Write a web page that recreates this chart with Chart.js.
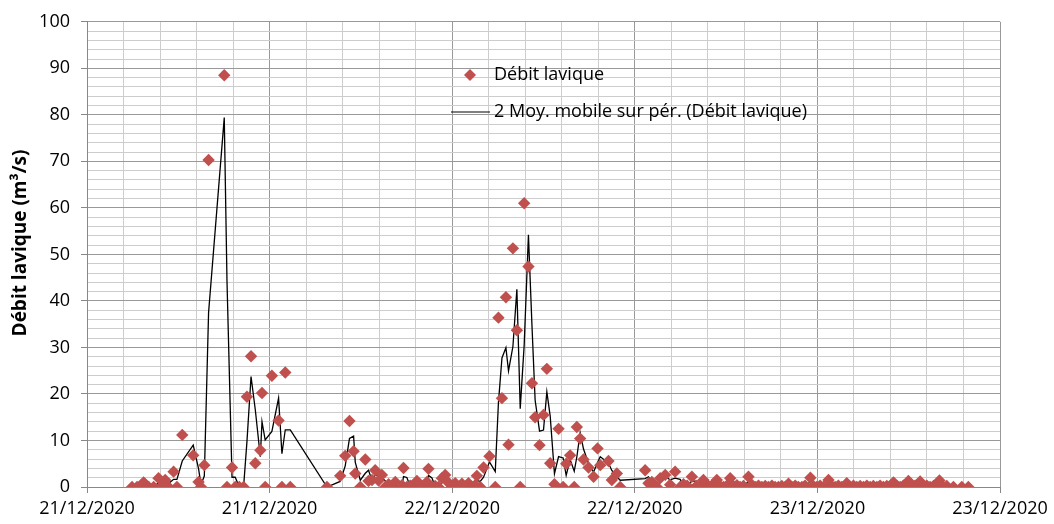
<!DOCTYPE html>
<html><head><meta charset="utf-8">
<script src="https://cdn.jsdelivr.net/npm/chart.js@4/dist/chart.umd.min.js"></script>
<style>html,body{margin:0;padding:0;background:#fff;overflow:hidden;} canvas{display:block;}</style>
</head><body>
<canvas id="c" width="1054" height="524"></canvas>
<script>
// ---- texts ----
const seriesName = 'Débit lavique';
const trendName = '2 Moy. mobile sur pér. (Débit lavique)';
const yAxisTitle = 'Débit lavique (m³/s)';
// x tick labels, one every 12 hours starting 21/12/2020 00:00
const dateLabels = ['21/12/2020','21/12/2020','22/12/2020','22/12/2020','23/12/2020','23/12/2020'];

// ---- data: time in hours since 21/12/2020 00:00, flow in m3/s ----
const timeHours = [
 2.96,3.29,3.72,4.05,4.38,4.70,4.85,5.14,5.36,5.69,5.91,6.26,6.98,7.33,7.49,7.71,7.99,9.02,9.20,9.53,
 9.74,10.01,10.29,10.51,10.78,11.06,11.39,11.50,11.71,12.15,12.59,12.81,13.03,13.36,
 15.77,16.64,16.97,17.25,17.52,17.63,17.96,18.29,18.50,18.73,18.94,19.16,19.38,19.60,19.82,20.04,
 20.26,20.47,20.70,20.80,21.02,21.24,21.46,21.68,21.90,22.12,22.34,22.44,22.67,22.88,23.10,23.32,
 23.54,23.76,23.98,24.20,24.42,24.64,24.86,25.07,25.30,25.51,25.62,25.84,26.06,26.45,26.83,
 27.04,27.27,27.53,27.70,27.99,28.25,28.47,28.73,29.01,29.24,29.45,29.74,30.00,30.22,30.44,30.72,
 30.99,31.29,31.49,31.75,32.02,32.19,32.41,32.63,32.96,33.29,33.55,33.73,34.27,34.49,34.82,35.04,
 36.68,36.90,37.12,37.45,37.67,38.00,38.32,38.65,38.98,39.20,39.44,39.75,40.08,40.30,40.51,40.84,
 41.08,41.39,41.61,41.83,42.05,42.27,42.48,42.71,42.92,43.14,43.47,43.69,43.91,44.13,44.35,44.57,
 44.78,45.01,45.22,45.44,45.66,45.88,46.10,46.32,46.54,46.75,46.98,47.19,47.54,47.74,47.96,48.18,
 48.40,48.73,48.95,49.17,49.38,49.61,49.93,50.15,50.37,50.59,50.81,51.03,51.25,51.47,51.68,51.91,
 52.12,52.34,52.56,52.78,53.00,53.22,53.44,53.65,53.98,54.20,54.42,54.75,54.97,55.19,55.41,55.63,
 56.02,56.26,56.50,56.94,57.49,57.92
];
const debit = [
 0,0,1.0,0,0,1.9,0,1.5,0,3.3,0,11.2,6.8,1.1,0,4.7,70.3,88.5,0,4.2,
 0,0,0,19.4,28.1,5.1,7.9,20.2,0,23.9,14.3,0,24.6,0,
 0,2.4,6.7,14.2,7.7,2.9,0,5.9,1.3,1.5,3.6,1.4,2.6,0,0.6,0,
 1.1,0,0.4,4.1,0,0.3,0,1.3,0,0.3,1.1,3.9,0,0.2,0,1.9,
 2.6,0.9,0,0.8,0,0.7,0,0.8,0,0.4,2.4,0,4.2,6.6,0,
 36.4,19.1,40.8,9.1,51.3,33.7,0,61.0,47.4,22.3,15.0,9.0,15.5,25.4,5.1,0.6,
 12.5,0,5.0,6.8,0,12.9,10.4,5.9,4.2,2.2,8.3,4.7,5.6,1.5,2.9,0,
 3.6,0.8,1.1,0,1.9,2.6,0.5,3.3,0,0.6,0.3,2.2,0.3,0.2,1.5,0.2,
 0.4,1.5,0.2,0,0.3,1.9,0.2,0.4,0,0.2,2.2,0.5,0,0.3,0,0.2,
 0,0.3,0,0,0.2,0,0.7,0,0.3,0,0,0.3,2.0,0.2,0,0.3,
 0,1.5,0.2,0,0.3,0,0.8,0,0.3,0,0.2,0,0.3,0,0.2,0,
 0.3,0,0.2,0,1.0,0.2,0,0.3,1.3,0,0.3,1.2,0,0.3,0,0.2,
 1.4,0,0.2,0,0,0
];

// ---- styles ----
const RED = '#C0504D';
const MAJOR = '#999999';
const MINOR = '#cdcdcd';
const FONT = "'Open Sans', 'Liberation Sans', sans-serif";

const points = timeHours.map((t, i) => ({x: t, y: debit[i]}));
// Excel "2-period moving average" trendline of the series
const movAvg = [];
for (let i = 1; i < debit.length; i++) movAvg.push({x: timeHours[i], y: (debit[i - 1] + debit[i]) / 2});

const isMult = (v, m) => Math.abs(v / m - Math.round(v / m)) < 1e-6;

const innerLegend = {
  id: 'innerLegend',
  afterDraw(chart) {
    const c = chart.ctx;
    c.save();
    // series legend: diamond + text
    c.fillStyle = RED;
    c.beginPath();
    c.moveTo(464, 75); c.lineTo(470, 69); c.lineTo(476, 75); c.lineTo(470, 81); c.closePath();
    c.fill();
    c.strokeStyle = '#000'; c.lineWidth = 1.2;
    c.beginPath(); c.moveTo(451, 112); c.lineTo(490, 112); c.stroke();
    c.fillStyle = '#000';
    c.font = '18px ' + FONT;
    c.textBaseline = 'middle'; c.textAlign = 'left';
    c.fillText(seriesName, 494, 75);
    c.fillText(trendName, 494, 112);
    // y axis title (rotated)
    c.translate(21, 243);
    c.rotate(-Math.PI / 2);
    c.font = 'bold 19px ' + FONT;
    c.textAlign = 'center';
    c.fillText(yAxisTitle, 0, 0);
    c.restore();
  }
};

function draw() {
  new Chart(document.getElementById('c'), {
    type: 'scatter',
    data: {
      datasets: [
        {label: seriesName, data: points, pointStyle: 'rectRot', pointRadius: 6.2, pointHoverRadius: 6.2,
         backgroundColor: RED, borderColor: RED, borderWidth: 0, order: 0},
        {type: 'line', label: trendName, data: movAvg, showLine: true, borderColor: '#000', borderWidth: 1.3,
         pointRadius: 0, tension: 0, fill: false, order: 1}
      ]
    },
    options: {
      responsive: false, animation: false, devicePixelRatio: 1,
      layout: {padding: {left: 0, top: 19, right: 54, bottom: 0}},
      plugins: {legend: {display: false}, tooltip: {enabled: false}},
      scales: {
        x: {
          type: 'linear', min: 0, max: 60,
          afterFit: s => { s.height = 37; },
          ticks: {stepSize: 2.4, autoSkip: false, maxRotation: 0, padding: 5, color: '#000',
                  font: {family: FONT, size: 18},
                  callback: v => isMult(v, 12) ? dateLabels[Math.round(v / 12)] : ''},
          grid: {lineWidth: 1, tickLength: 6,
                 color: ctx => (ctx.tick && isMult(ctx.tick.value, 12)) ? MAJOR : MINOR,
                 tickColor: ctx => (ctx.tick && isMult(ctx.tick.value, 12)) ? '#888888' : 'rgba(0,0,0,0)'},
          border: {color: '#888888', width: 1}
        },
        y: {
          min: 0, max: 100,
          afterFit: s => { s.width = 87; },
          ticks: {stepSize: 2, autoSkip: false, padding: 11, color: '#000',
                  font: {family: FONT, size: 18},
                  callback: v => isMult(v, 10) ? String(v) : ''},
          grid: {lineWidth: 1, tickLength: 6,
                 color: ctx => (ctx.tick && isMult(ctx.tick.value, 10)) ? MAJOR : MINOR,
                 tickColor: ctx => (ctx.tick && isMult(ctx.tick.value, 10)) ? '#888888' : 'rgba(0,0,0,0)'},
          border: {color: '#888888', width: 1}
        }
      }
    },
    plugins: [innerLegend]
  });
}
if (document.fonts && document.fonts.load) {
  Promise.all([document.fonts.load("18px 'Open Sans'"), document.fonts.load("bold 19px 'Open Sans'")])
    .then(draw, draw);
} else { draw(); }
</script>
</body></html>
